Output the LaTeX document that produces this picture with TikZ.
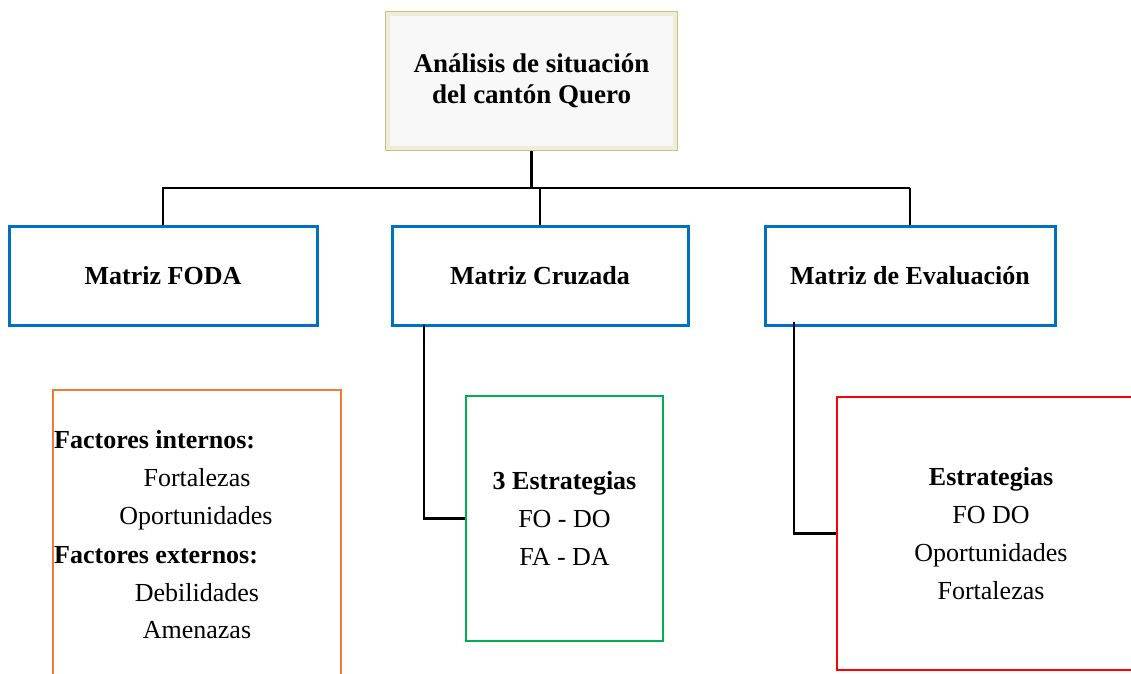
\documentclass[tikz,border=0pt]{standalone}
\usepackage{fontspec}
\setmainfont{Liberation Serif}
\definecolor{mblue}{RGB}{0,112,192}
\definecolor{morange}{RGB}{237,125,49}
\definecolor{mgreen}{RGB}{0,176,80}
\definecolor{mred}{RGB}{255,0,0}
\definecolor{topedge}{RGB}{196,196,128}
\definecolor{topfill}{RGB}{248,248,248}
\begin{document}
\begin{tikzpicture}[x=1pt,y=-1pt,
  conn/.style={line width=2.5pt, black},
  bluebox/.style={draw=mblue, line width=3pt, minimum height=99pt, inner sep=0pt,
    font=\bfseries\fontsize{26}{31}\selectfont},
  txt/.style={inner sep=0pt, font=\fontsize{26}{38}\selectfont},
  btxt/.style={inner sep=0pt, font=\bfseries\fontsize{26}{38}\selectfont}]
\useasboundingbox (0,0) rectangle (1131,673);
\clip (0,0) rectangle (1131,673);
% top box
\node[draw=topedge, line width=2.5pt, fill=topfill, minimum width=291pt, minimum height=138pt,
  align=center, inner sep=0pt, font=\bfseries\fontsize{27}{31}\selectfont]
  (top) at (531.5,81) {Análisis de situación\\del cantón Quero};
\draw[draw=topedge!30, line width=4pt] ([shift={(3.5pt,3.5pt)}]top.south west) rectangle ([shift={(-3.5pt,-3.5pt)}]top.north east);
% second level
\node[bluebox, minimum width=308pt] (foda) at (163,275.5) {Matriz FODA};
\node[bluebox, minimum width=296pt] (cruz) at (540,275.5) {Matriz Cruzada};
\node[bluebox, minimum width=290pt] (eval) at (910,275.5) {Matriz de Evaluación};
% connectors top
\coordinate (hl) at (162,188);
\coordinate (hr) at (910,188);
\draw[conn] (hl) -- (hr);
\draw[conn, line width=3pt] (top.south) -- (top.south |- hl);
\draw[conn] (foda.north) -- (foda.north |- hl);
\draw[conn] (cruz.north) -- (cruz.north |- hl);
\draw[conn] (eval.north) -- (eval.north |- hl);
% orange box
\node[draw=morange, line width=2pt, minimum width=288pt, minimum height=300pt] (fbox) at (197,540) {};
\node[btxt, anchor=base west] (fi) at (54,448) {Factores internos:};
\node[txt, anchor=base] (f1) at (197,486) {Fortalezas};
\node[txt, anchor=base] (f2) at (196,524) {Oportunidades};
\node[btxt, anchor=base west] (fe) at (54,563) {Factores externos:};
\node[txt, anchor=base] (f3) at (197,601) {Debilidades};
\node[txt, anchor=base] (f4) at (197,638) {Amenazas};
% green box
\node[draw=mgreen, line width=2pt, minimum width=197pt, minimum height=245pt,
  align=center, txt] (gbox) at (564.5,518.5)
  {\textbf{3 Estrategias}\\FO - DO\\FA - DA};
% red box
\node[draw=mred, line width=2.5pt, minimum width=308pt, minimum height=273pt,
  align=center, txt] (rbox) at (991,533.5)
  {\textbf{Estrategias}\\FO DO\\Oportunidades\\Fortalezas};
% lower connectors
\coordinate (c1) at (424,325);
\draw[conn] (c1) |- (gbox.west);
\coordinate (c2) at (794,322);
\draw[conn] (c2) |- (rbox.west);
\end{tikzpicture}
\end{document}
